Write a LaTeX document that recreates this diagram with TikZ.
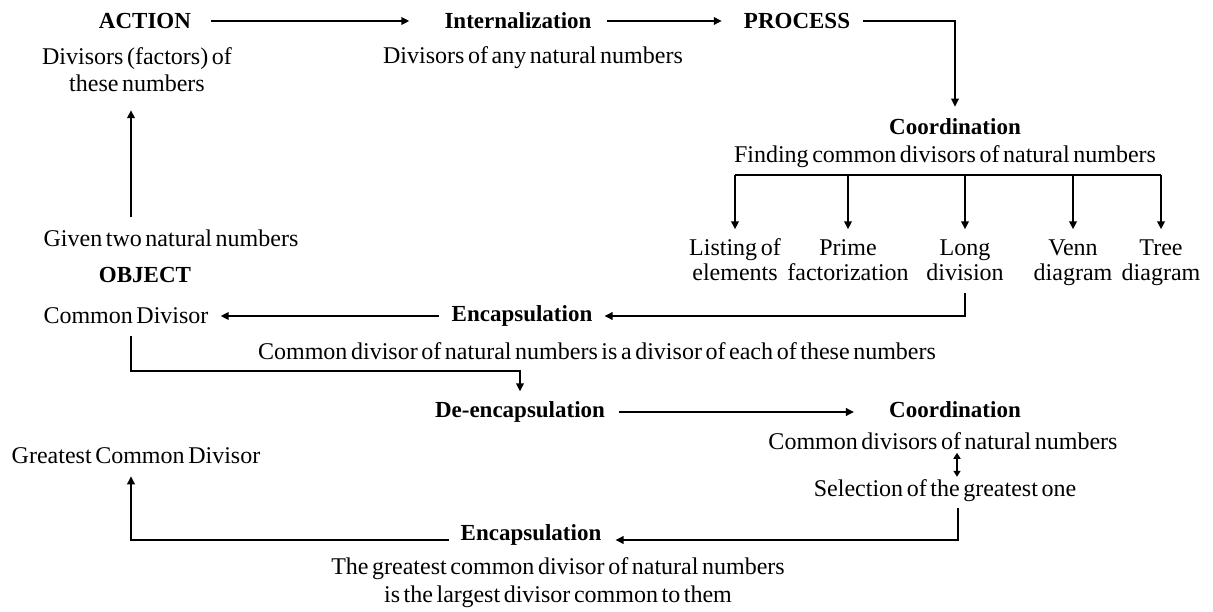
\documentclass[tikz,border=0pt]{standalone}
\usepackage{fontspec}
\setmainfont{Liberation Serif}[WordSpace=0.6]
\usetikzlibrary{arrows.meta}
\newcommand{\sline}[1]{\strut#1}
\begin{document}
\begin{tikzpicture}[x=1pt,y=-1pt,
  txt/.style={inner sep=0pt,align=center,font=\fontsize{24}{25.5}\selectfont},
  hd/.style={txt,font=\fontsize{23}{25.5}\selectfont\bfseries},
  conn/.style={line width=1.8pt},
  arr/.style={conn,-{Triangle[length=8pt,width=7.5pt]}},
  dbl/.style={conn,{Triangle[length=6pt,width=7pt]}-{Triangle[length=6pt,width=7pt]}}]
\useasboundingbox (0,0) rectangle (1213,612);
% top row
\node[hd] (action) at (145,21) {ACTION};
\node[txt,font=\fontsize{24}{27}\selectfont] (divf) at (137,73) {\sline{Divisors (factors) of}\\\sline{these numbers}};
\node[hd] (intern) at (518,21) {Internalization};
\node[txt] (divany) at (533,58) {Divisors of any natural numbers};
\node[hd] (process) at (797,21) {PROCESS};
\node[txt] (given) at (171,238) {Given two natural numbers};
\node[hd] (object) at (145,275) {OBJECT};
% coordination 1
\node[hd] (coordA) at (955,127) {Coordination};
\node[txt] (finding) at (945,157) {Finding common divisors of natural numbers};
\coordinate (bar) at (0,175);
\node[txt] (m1) at (735,263) {\sline{Listing of}\\\sline{elements}};
\node[txt] (m2) at (848,263) {\sline{Prime}\\\sline{factorization}};
\node[txt] (m3) at (965,263) {\sline{Long}\\\sline{division}};
\node[txt] (m4) at (1073,263) {\sline{Venn}\\\sline{diagram}};
\node[txt] (m5) at (1161,263) {\sline{Tree}\\\sline{diagram}};
% encapsulation 1
\node[hd] (encA) at (522,316) {Encapsulation};
\node[txt] (cdiv) at (126,316) {Common Divisor};
\node[txt] (cdtext) at (597,351) {Common divisor of natural numbers is a divisor of each of these numbers};
% de-encapsulation
\node[hd] (deenc) at (520,412) {De-encapsulation};
\node[hd] (coordB) at (955,410) {Coordination};
\node[txt] (cdnat) at (943,441) {Common divisors of natural numbers};
\node[txt] (sel) at (945,491) {Selection of the greatest one};
\node[hd] (encB) at (531,535) {Encapsulation};
\node[txt] (gcd) at (136,456) {Greatest Common Divisor};
\node[txt,font=\fontsize{24}{28}\selectfont] (gcdtext) at (558,583) {\sline{The greatest common divisor of natural numbers}\\\sline{is the largest divisor common to them}};
% connectors
\draw[arr,shorten <=20pt,shorten >=35pt] (action) -- (intern);
\draw[arr,shorten <=15pt,shorten >=22pt] (intern) -- (process);
\draw[arr,shorten <=13pt,shorten >=12pt] (process) -| (coordA);
\draw[arr,shorten <=12pt,shorten >=10pt] ([xshift=-6pt]given.north -| divf.south) -- ([xshift=-6pt]divf.south);
\draw[conn] (m1 |- bar) -- (m5 |- bar);
\foreach \m in {m1,m2,m3,m4,m5}{
  \draw[arr,shorten >=8pt] (\m |- bar) -- (\m.north);
}
\draw[arr,shorten <=4pt,shorten >=12pt] (m3.south) |- (encA.east);
\draw[arr,shorten <=13pt,shorten >=12pt] (encA) -- (cdiv);
\draw[arr,shorten <=12pt,shorten >=10pt] ([xshift=5pt]cdiv.south) -- ++(0,47) -| (deenc.north);
\draw[arr,shorten <=14pt,shorten >=35pt] (deenc.east) -- (deenc.east -| coordB.west);
\draw[dbl,shorten <=3pt,shorten >=3pt] ([xshift=2pt]cdnat.south -| coordB) -- ([xshift=2pt]sel.north -| coordB);
\draw[arr,shorten <=6pt,shorten >=14pt] ([xshift=13pt]sel.south) |- ([yshift=-5pt]encB.east);
\draw[arr,shorten <=12pt,shorten >=12pt] ([yshift=-5pt]encB.west) -| ([xshift=-5pt]gcd.south);
\end{tikzpicture}
\end{document}
